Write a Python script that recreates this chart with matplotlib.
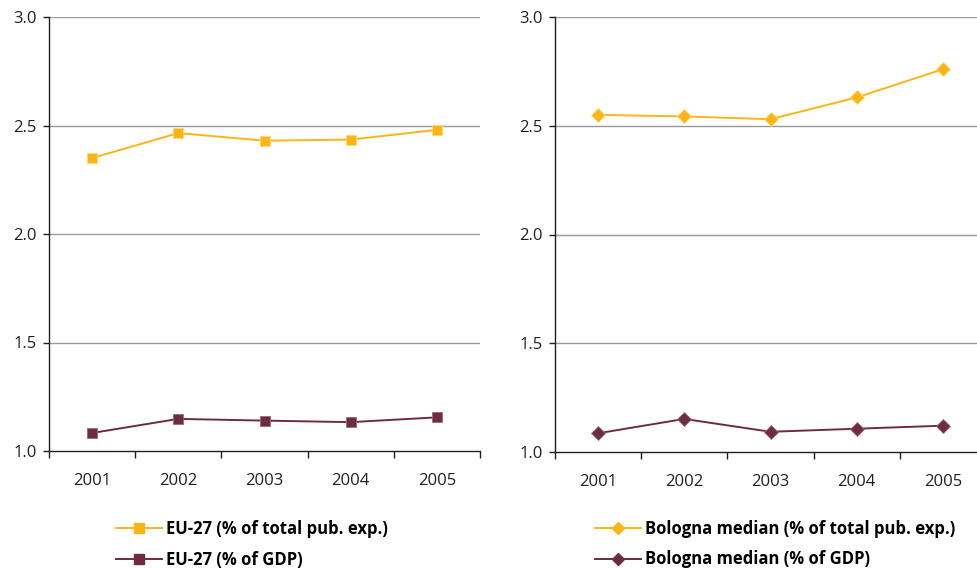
import matplotlib
matplotlib.use("Agg")
import matplotlib.pyplot as plt
from matplotlib.lines import Line2D

years = ["2001", "2002", "2003", "2004", "2005"]
eu_total = [2.35, 2.465, 2.43, 2.435, 2.48]
eu_gdp = [1.083, 1.148, 1.14, 1.133, 1.155]
bol_total = [2.55, 2.543, 2.53, 2.63, 2.76]
bol_gdp = [1.086, 1.152, 1.093, 1.107, 1.121]
yticks = [1.0, 1.5, 2.0, 2.5, 3.0]
labels_left = ["EU-27 (% of total pub. exp.)", "EU-27 (% of GDP)"]
labels_right = ["Bologna median (% of total pub. exp.)", "Bologna median (% of GDP)"]

ORANGE = "#FDB515"
MAROON = "#6E2C40"
GRID = "#9a9a9a"
W, H = 978, 568

plt.rcParams['font.family'] = ['Open Sans', 'DejaVu Sans']
fig = plt.figure(figsize=(W / 100, H / 100), dpi=100)

def make_ax(x0, x1, y_top, y_bot):
    return fig.add_axes([x0 / W, (H - y_bot) / H, (x1 - x0) / W, (y_bot - y_top) / H])

axL = make_ax(49, 480, 17, 451)
axR = make_ax(555, 986, 17, 452)

def style(ax):
    x = list(range(len(years)))
    ax.set_xlim(-0.5, len(years) - 0.5)
    ax.set_ylim(1.0, 3.0)
    ax.set_yticks(yticks)
    ax.set_yticklabels([f"{v:.1f}" for v in yticks], fontsize=12, color="#231f20")
    ax.set_xticks(x)
    ax.set_xticklabels(years, fontsize=12, color="#231f20")
    ax.set_xticks([i - 0.5 for i in range(len(years) + 1)], minor=True)
    ax.tick_params(axis='x', which='major', length=0, pad=16)
    ax.tick_params(axis='x', which='minor', length=5, width=1, color="#231f20", direction='out')
    ax.tick_params(axis='y', length=4, width=1, color="#231f20", pad=5)
    for s in ("top", "right"):
        ax.spines[s].set_visible(False)
    for s in ("left", "bottom"):
        ax.spines[s].set_color("#231f20")
        ax.spines[s].set_linewidth(1)
    for v in yticks[1:]:
        ax.axhline(v, color=GRID, lw=1, zorder=0)

style(axL)
style(axR)
x = list(range(len(years)))
axL.plot(x, eu_total, color=ORANGE, lw=1.4, marker='s', ms=7.5, mec='#FFD870', mew=0.6, zorder=3)
axL.plot(x, eu_gdp, color=MAROON, lw=1.4, marker='s', ms=7.5, mec='#9a6a78', mew=0.6, zorder=3)
axR.plot(x, bol_total, color=ORANGE, lw=1.4, marker='D', ms=7, mec='#FFD870', mew=0.6, zorder=3)
axR.plot(x, bol_gdp, color=MAROON, lw=1.4, marker='D', ms=7, mec='#9a6a78', mew=0.6, zorder=3)

legfont = dict(family=['Open Sans', 'DejaVu Sans'], weight='bold', size=12)
hL = [Line2D([], [], color=ORANGE, lw=1.4, marker='s', ms=6.5),
      Line2D([], [], color=MAROON, lw=1.4, marker='s', ms=6.5)]
hR = [Line2D([], [], color=ORANGE, lw=1.4, marker='D', ms=6.5),
      Line2D([], [], color=MAROON, lw=1.4, marker='D', ms=6.5)]
fig.legend(hL, labels_left, loc='upper left', bbox_to_anchor=(101 / W, (H - 505) / H),
           frameon=False, prop=legfont, handlelength=2.75, handletextpad=0.25, labelspacing=0.75)
fig.legend(hR, labels_right, loc='upper left', bbox_to_anchor=(580 / W, (H - 505) / H),
           frameon=False, prop=legfont, handlelength=2.75, handletextpad=0.25, labelspacing=0.75)

fig.savefig("out.png", dpi=100)
